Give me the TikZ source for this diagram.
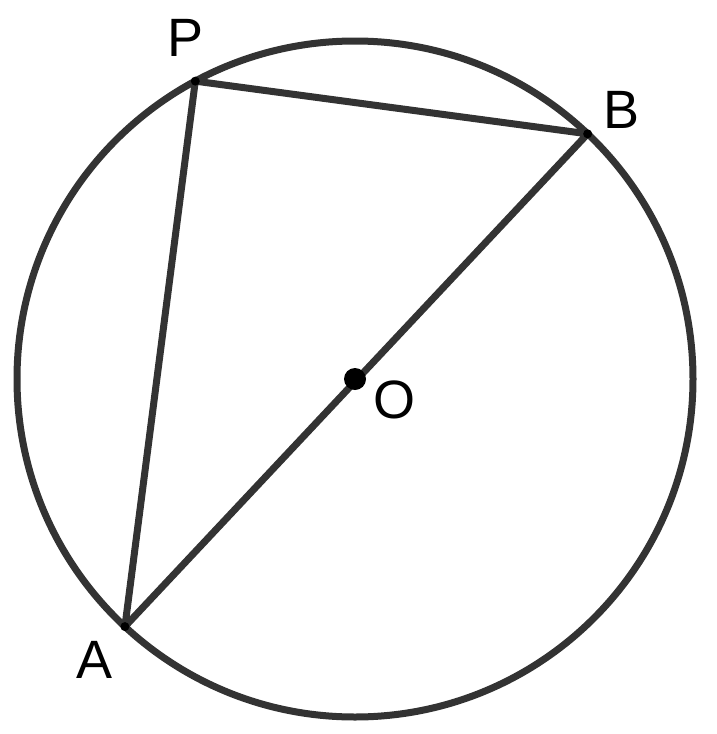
\documentclass[tikz,border=0pt]{standalone}
\usepackage{fontspec}
\setmainfont{Liberation Sans}
\usetikzlibrary{calc}
\begin{document}
\begin{tikzpicture}[x=1pt,y=-1pt,
  geo/.style={draw=black!80,line width=7pt,line join=round},
  vtx/.style={circle,fill=black,inner sep=0pt,minimum size=9pt},
  ctr/.style={circle,fill=black,inner sep=0pt,minimum size=22pt},
  lbl/.style={font=\fontsize{54}{60}\selectfont,inner sep=0pt}]
\useasboundingbox (0,0) rectangle (717,734);
\coordinate (O) at (355,379);
\draw[geo] (O) circle[radius=338];
\coordinate (A) at ($(O)+(132.9:338)$);
\coordinate (B) at ($(O)+(-46.5:338)$);
\coordinate (P) at ($(O)+(-118.2:338)$);
\draw[geo] (P) -- (B) -- (A) -- cycle;
\node[vtx] (vA) at (A) {};
\node[vtx] (vB) at (B) {};
\node[vtx] (vP) at (P) {};
\node[ctr] (vO) at (O) {};
\node[lbl] (lP) at (186,38) {P};
\node[lbl] (lB) at (622,110) {B};
\node[lbl] (lA) at (95,660) {A};
\node[lbl] (lO) at (394,400) {O};
\end{tikzpicture}
\end{document}
